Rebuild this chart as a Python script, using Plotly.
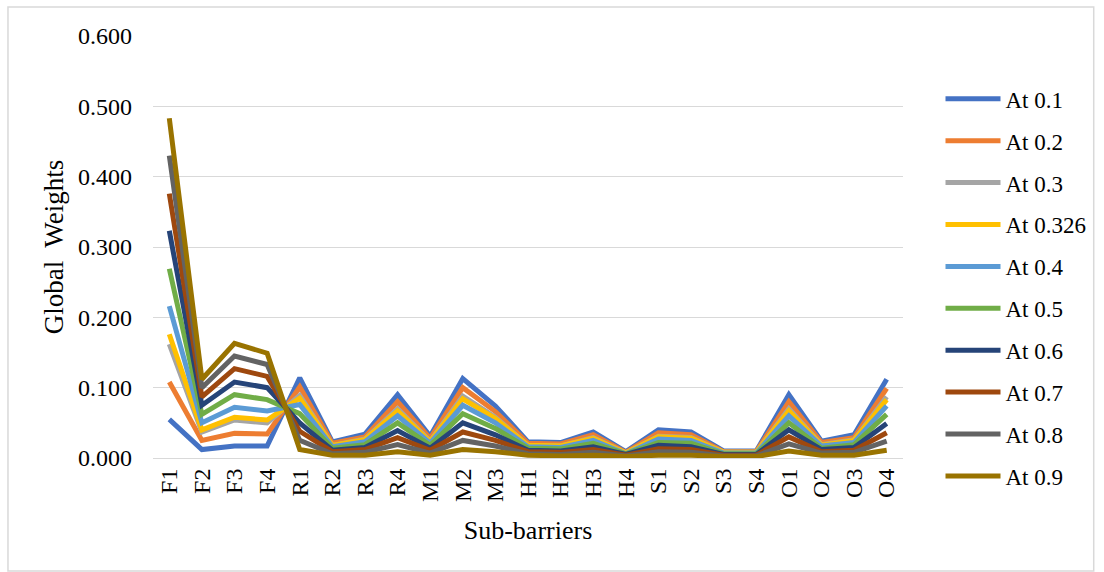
import plotly.graph_objects as go

categories = ["F1","F2","F3","F4","R1","R2","R3","R4","M1","M2","M3",
              "H1","H2","H3","H4","S1","S2","S3","S4","O1","O2","O3","O4"]

at_01  = [0.055,0.012,0.017,0.017,0.114,0.023,0.034,0.090,0.031,0.113,0.074,0.023,0.022,0.037,0.009,0.040,0.037,0.010,0.010,0.090,0.024,0.033,0.112]
at_02  = [0.108,0.025,0.035,0.034,0.101,0.021,0.030,0.080,0.028,0.100,0.066,0.021,0.020,0.033,0.008,0.036,0.033,0.009,0.009,0.080,0.022,0.029,0.099]
at_03  = [0.162,0.037,0.054,0.050,0.089,0.018,0.027,0.070,0.024,0.088,0.058,0.018,0.017,0.029,0.007,0.031,0.029,0.008,0.008,0.070,0.019,0.026,0.087]
at_0326= [0.176,0.040,0.058,0.054,0.085,0.018,0.026,0.067,0.023,0.084,0.056,0.018,0.017,0.028,0.007,0.030,0.028,0.008,0.008,0.067,0.018,0.025,0.083]
at_04  = [0.216,0.050,0.072,0.067,0.076,0.016,0.023,0.060,0.021,0.075,0.050,0.016,0.015,0.025,0.006,0.027,0.025,0.007,0.007,0.060,0.017,0.022,0.074]
at_05  = [0.269,0.062,0.090,0.083,0.063,0.014,0.019,0.050,0.018,0.063,0.042,0.014,0.013,0.021,0.006,0.022,0.021,0.006,0.006,0.050,0.014,0.019,0.062]
at_06  = [0.323,0.075,0.108,0.100,0.050,0.011,0.015,0.039,0.014,0.050,0.033,0.011,0.010,0.016,0.005,0.018,0.016,0.005,0.005,0.040,0.012,0.015,0.049]
at_07  = [0.376,0.087,0.127,0.116,0.038,0.009,0.012,0.029,0.011,0.037,0.025,0.009,0.008,0.012,0.004,0.013,0.012,0.004,0.004,0.030,0.009,0.011,0.036]
at_08  = [0.430,0.100,0.145,0.133,0.025,0.006,0.008,0.019,0.007,0.025,0.017,0.006,0.005,0.008,0.003,0.009,0.008,0.003,0.003,0.020,0.007,0.008,0.024]
at_09  = [0.483,0.112,0.163,0.149,0.012,0.004,0.004,0.009,0.004,0.012,0.009,0.004,0.003,0.004,0.002,0.004,0.004,0.002,0.002,0.010,0.004,0.004,0.011]

series_names = ["At 0.1","At 0.2","At 0.3","At 0.326","At 0.4","At 0.5","At 0.6","At 0.7","At 0.8","At 0.9"]
series_values = [at_01, at_02, at_03, at_0326, at_04, at_05, at_06, at_07, at_08, at_09]
colors = ["#4472C4","#ED7D31","#A5A5A5","#FFC000","#5B9BD5","#70AD47","#264478","#9E480E","#636363","#997300"]

y_ticks = [0.0, 0.1, 0.2, 0.3, 0.4, 0.5, 0.6]
y_tick_labels = ["0.000","0.100","0.200","0.300","0.400","0.500","0.600"]

FONT = "Liberation Serif, Times New Roman, serif"

fig = go.Figure()
for i, (name, vals, col) in enumerate(zip(series_names, series_values, colors)):
    fig.add_trace(go.Scatter(
        x=categories, y=vals, name=name, mode="lines",
        line=dict(color=col, width=5),
        legendgroup=f"g{i}",
    ))

fig.update_layout(
    width=1104, height=572,
    margin=dict(l=153, r=196, t=36, b=114),
    paper_bgcolor="white", plot_bgcolor="white",
    font=dict(family=FONT, size=24, color="black"),
    showlegend=True,
    legend=dict(
        x=1.050, xanchor="left", y=0.902, yanchor="top",
        font=dict(family=FONT, size=23, color="black"),
        itemwidth=55, tracegroupgap=9, maxheight=600,
        bgcolor="rgba(0,0,0,0)",
    ),
    xaxis=dict(
        type="category", range=[-0.5, 22.5],
        tickangle=-90, showgrid=False,
        showline=True, linecolor="#D9D9D9", linewidth=1,
        ticks="", tickfont=dict(family=FONT, size=24),
        title=dict(text="Sub-barriers", font=dict(family=FONT, size=26), standoff=19),
    ),
    yaxis=dict(
        range=[0, 0.6], tickvals=y_ticks, ticktext=y_tick_labels,
        showgrid=True, gridcolor="#D9D9D9", gridwidth=1,
        zeroline=False, showline=False, ticks="",
        tickfont=dict(family=FONT, size=24),
        ticklabelstandoff=20,
        title=dict(text="Global  Weights", font=dict(family=FONT, size=27), standoff=6),
    ),
    shapes=[dict(type="rect", xref="paper", yref="paper",
                 x0=(7-153)/755, x1=(1100-153)/755,
                 y0=(458-571)/422, y1=(458-7)/422,
                 line=dict(color="#D9D9D9", width=1.5), fillcolor="rgba(0,0,0,0)", layer="below")],
)

fig.write_html("out.html", config={"displayModeBar": False},
               post_script="document.body.style.margin='0';document.body.style.overflow='hidden';")
